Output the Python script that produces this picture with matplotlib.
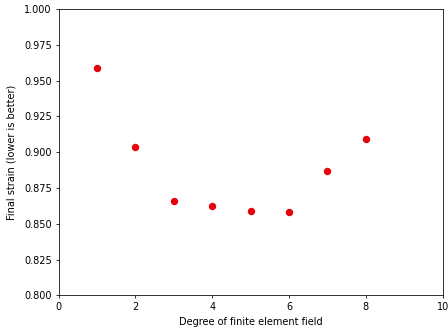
import matplotlib
matplotlib.use("Agg")
import matplotlib.pyplot as plt

# degree of the finite element field vs final strain
degree = [1, 2, 3, 4, 5, 6, 7, 8]
strain = [0.9588, 0.9036, 0.8661, 0.8624, 0.8591, 0.8582, 0.8868, 0.9090]

plt.rcParams['font.size'] = 7
plt.rcParams['axes.linewidth'] = 0.56
plt.rcParams['xtick.major.width'] = 0.56
plt.rcParams['ytick.major.width'] = 0.56
plt.rcParams['xtick.major.size'] = 2.45
plt.rcParams['ytick.major.size'] = 2.45
plt.rcParams['xtick.major.pad'] = 2.45
plt.rcParams['ytick.major.pad'] = 2.45

fig = plt.figure(figsize=(4.48, 3.33), dpi=100)
ax = fig.add_axes([0.131, 0.113, 0.857, 0.86])

ax.plot(degree, strain, 'o', color='#e8000b', markersize=4.3, linestyle='none')

ax.set_xlim(0, 10)
ax.set_ylim(0.8, 1.0)
ax.set_xticks([0, 2, 4, 6, 8, 10])
ax.set_yticks([0.8, 0.825, 0.85, 0.875, 0.9, 0.925, 0.95, 0.975, 1.0])
ax.set_yticklabels(["%.3f" % v for v in ax.get_yticks()])
ax.set_xlabel("Degree of finite element field", labelpad=3.5)
ax.set_ylabel("Final strain (lower is better)", labelpad=5.5)

fig.savefig("out.png", dpi=100)
